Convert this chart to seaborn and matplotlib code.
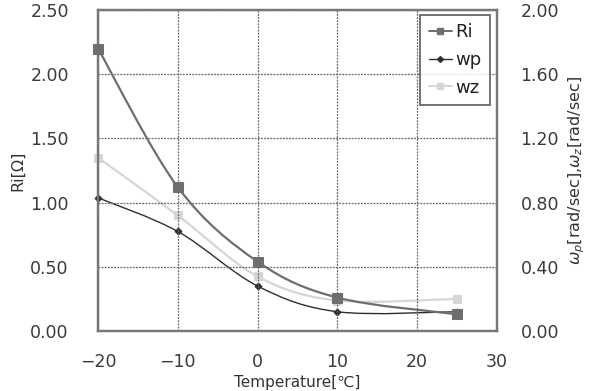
import numpy as np
import pandas as pd
import seaborn as sns
import matplotlib
matplotlib.use("Agg")
import matplotlib.pyplot as plt
from matplotlib.path import Path
from matplotlib.patches import PathPatch
from matplotlib.lines import Line2D

temps = [-20, -10, 0, 10, 25]
ri = [2.20, 1.12, 0.54, 0.26, 0.13]
wp = [0.83, 0.62, 0.28, 0.12, 0.12]
wz = [1.08, 0.72, 0.34, 0.19, 0.20]

sns.set_theme(style="white")
plt.rcParams['font.family'] = ['DejaVu Sans']

fig = plt.figure(figsize=(5.96, 3.91), dpi=100)
ax = fig.add_axes([98/596, 1-331/391, 399/596, 321/391])
ax2 = ax.twinx()


def smooth_path(ax_, xs, ys, color, lw, z):
    # Excel-style smoothed line: cubic Bezier segments through the points
    xs = np.asarray(xs, float); ys = np.asarray(ys, float)
    n = len(xs)
    verts = [(xs[0], ys[0])]
    codes = [Path.MOVETO]
    t = 1/6
    for i in range(n - 1):
        p0 = (xs[i-1], ys[i-1]) if i > 0 else (xs[i], ys[i])
        p1 = (xs[i], ys[i]); p2 = (xs[i+1], ys[i+1])
        p3 = (xs[i+2], ys[i+2]) if i + 2 < n else p2
        c1 = (p1[0] + (p2[0]-p0[0])*t, p1[1] + (p2[1]-p0[1])*t)
        c2 = (p2[0] - (p3[0]-p1[0])*t, p2[1] - (p3[1]-p1[1])*t)
        verts += [c1, c2, p2]
        codes += [Path.CURVE4]*3
    ax_.add_patch(PathPatch(Path(verts, codes), fill=False, edgecolor=color, lw=lw,
                            zorder=z, clip_on=False))


df_ri = pd.DataFrame({"T": temps, "v": ri})
df_wp = pd.DataFrame({"T": temps, "v": wp})
df_wz = pd.DataFrame({"T": temps, "v": wz})

c_ri, c_wp, c_wz = "#6e6e6e", "#2e2e2e", "#d6d6d6"

smooth_path(ax2, temps, wz, c_wz, 1.6, 2)
sns.lineplot(data=df_wz, x="T", y="v", ax=ax2, color=c_wz, marker="s", markersize=6,
             markeredgecolor=c_wz, linestyle="none", zorder=3, clip_on=False)
smooth_path(ax2, temps, wp, c_wp, 1.0, 4)
sns.lineplot(data=df_wp, x="T", y="v", ax=ax2, color=c_wp, marker="D", markersize=3.5,
             markeredgecolor=c_wp, linestyle="none", zorder=5, clip_on=False)

smooth_path(ax, temps, ri, c_ri, 1.6, 3)
sns.lineplot(data=df_ri, x="T", y="v", ax=ax, color=c_ri, marker="s", markersize=7.5,
             markeredgecolor=c_ri, linestyle="none", zorder=4, clip_on=False)
ax.set_zorder(ax2.get_zorder() + 1)
ax.patch.set_visible(False)

ax.set_xlim(-20, 30)
ax.set_ylim(0, 2.5)
ax2.set_ylim(0, 2.0)
ax.set_xticks([-20, -10, 0, 10, 20, 30])
ax.set_xticklabels(["\u221220", "\u221210", "0", "10", "20", "30"])
ax.set_yticks([0, 0.5, 1.0, 1.5, 2.0, 2.5])
ax.set_yticklabels([f"{v:.2f}" for v in [0, 0.5, 1.0, 1.5, 2.0, 2.5]])
ax2.set_yticks([0, 0.4, 0.8, 1.2, 1.6, 2.0])
ax2.set_yticklabels([f"{v:.2f}" for v in [0, 0.4, 0.8, 1.2, 1.6, 2.0]])

ax.grid(True, color="#666666", linestyle=(0, (1.5, 1)), linewidth=0.9)
ax2.grid(False)
for a in (ax, ax2):
    for s in a.spines.values():
        s.set_color("#777777"); s.set_linewidth(1.6)
    a.tick_params(axis="both", length=0, labelsize=12.5, colors="#3a3a3a")
ax.tick_params(axis="x", pad=16)
ax.tick_params(axis="y", pad=21)
ax2.tick_params(axis="y", pad=17)

ax.set_xlabel("Temperature[\u2103]", fontsize=11, color="#333333", labelpad=3)
ax.set_ylabel("Ri[\u03a9]", fontsize=11.5, color="#333333", labelpad=4)
ax2.set_ylabel(r"$\omega_p$[rad/sec],$\omega_z$[rad/sec]", fontsize=11.5, color="#333333",
               labelpad=5)

handles = [Line2D([], [], color=c_ri, marker="s", markersize=5, lw=1.4),
           Line2D([], [], color=c_wp, marker="D", markersize=3, lw=1.0),
           Line2D([], [], color=c_wz, marker="s", markersize=5, lw=1.4)]
leg = ax.legend(handles, ["Ri", "wp", "wz"], loc="upper right", bbox_to_anchor=(0.9825, 0.985),
                fontsize=13, frameon=True, fancybox=False, handlelength=1.3,
                handletextpad=0.2, borderpad=0.45, labelspacing=0.55, borderaxespad=0)
leg.get_frame().set_edgecolor("#444444")
leg.get_frame().set_linewidth(1.3)
for t in leg.get_texts():
    t.set_color("#222222")

fig.savefig("out.png", dpi=100)
